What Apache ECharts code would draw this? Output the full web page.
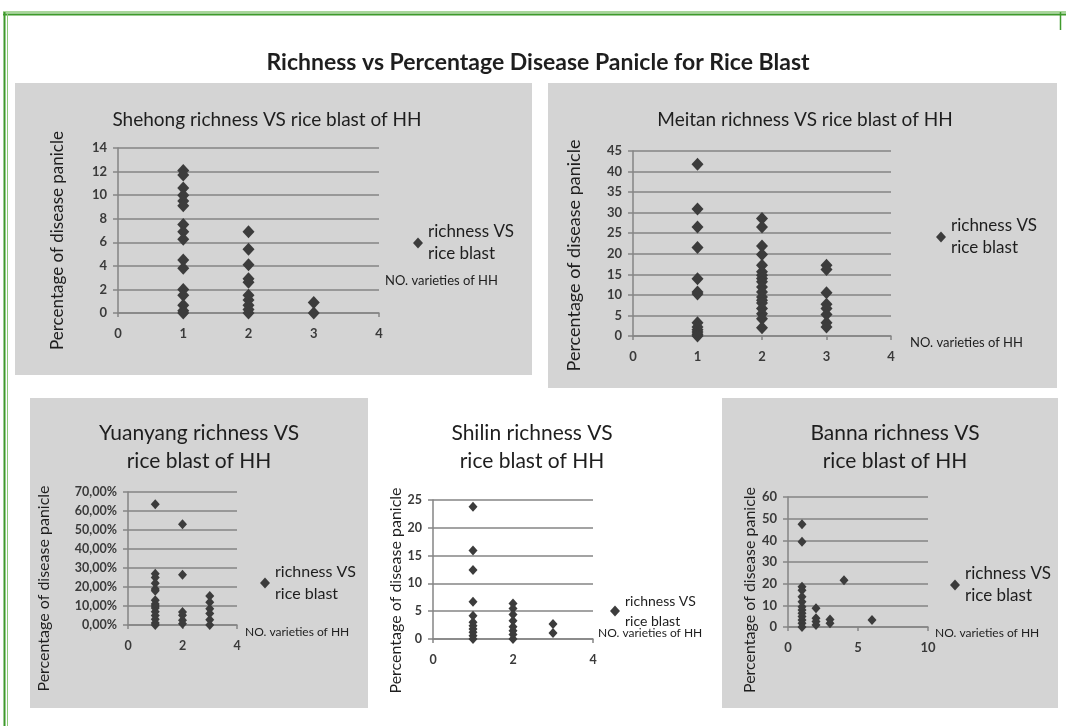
<!DOCTYPE html>
<html>
<head>
<meta charset="utf-8">
<script src="https://cdn.jsdelivr.net/npm/echarts@6/dist/echarts.min.js"></script>
<style>
html,body{margin:0;padding:0;background:#fff;}
#chart{width:1066px;height:726px;}
</style>
</head>
<body>
<div id="chart"></div>
<script>
// ---------- data ----------
const mainTitle = 'Richness vs Percentage Disease Panicle for Rice Blast';
const legendName = 'richness VS rice blast';
const xAxisName = 'NO. varieties of HH';
const yAxisName = 'Percentage of disease panicle';

// Shehong (x = number of HH varieties)
const shehong1 = [12.1, 11.7, 10.6, 10.0, 9.5, 9.1, 7.5, 6.9, 6.25, 4.5, 3.8, 2.0, 1.5, 0.65, 0.2, 0];
const shehong2 = [6.9, 5.4, 4.1, 2.9, 2.6, 1.5, 1.1, 0.65, 0.3, 0];
const shehong3 = [0.9, 0];

// Meitan
const meitan1 = [41.8, 30.9, 26.5, 21.5, 13.9, 10.7, 10.2, 3.2, 2.2, 1.5, 1.0, 0.4, 0];
const meitan2 = [28.6, 26.5, 21.9, 19.8, 17.2, 15.6, 14.8, 14.0, 13.2, 11.9, 10.7, 9.5, 8.7, 8.0, 6.7, 5.4, 4.2, 2.0];
const meitan3 = [17.2, 16.2, 10.5, 7.7, 6.7, 5.2, 3.2, 2.2];

// Yuanyang (fractions, shown as %)
const yuanyang1 = [0.635, 0.27, 0.25, 0.22, 0.19, 0.18, 0.13, 0.11, 0.10, 0.09, 0.07, 0.05, 0.03, 0.01, 0];
const yuanyang2 = [0.53, 0.265, 0.068, 0.051, 0.025, 0.007];
const yuanyang3 = [0.153, 0.12, 0.086, 0.06, 0.028, 0];

// Shilin
const shilin1 = [23.8, 15.9, 12.4, 6.7, 4.2, 3.0, 2.4, 1.8, 1.2, 0.6, 0];
const shilin2 = [6.4, 5.5, 4.4, 3.3, 2.2, 1.5, 0.8, 0];
const shilin3 = [2.7, 1.1];

// Banna
const banna1 = [47.4, 39.3, 18.6, 17.0, 14.0, 11.7, 9.4, 7.8, 6.3, 4.8, 3.2, 1.7, 0];
const banna2 = [8.6, 4.0, 2.5, 0.9];
const banna3 = [3.5, 1.7];
const banna4 = [21.6];
const banna6 = [3.2];

const panels = [
  {title: 'Shehong richness VS rice blast of HH', groups: [[1, shehong1], [2, shehong2], [3, shehong3]], xMax: 4, xInt: 1, yMax: 14, yInt: 2},
  {title: 'Meitan richness VS rice blast of HH', groups: [[1, meitan1], [2, meitan2], [3, meitan3]], xMax: 4, xInt: 1, yMax: 45, yInt: 5},
  {title: 'Yuanyang richness VS\nrice blast of HH', groups: [[1, yuanyang1], [2, yuanyang2], [3, yuanyang3]], xMax: 4, xInt: 2, yMax: 0.7, yInt: 0.1, pct: true},
  {title: 'Shilin richness VS\nrice blast of HH', groups: [[1, shilin1], [2, shilin2], [3, shilin3]], xMax: 4, xInt: 2, yMax: 25, yInt: 5},
  {title: 'Banna richness VS\nrice blast of HH', groups: [[1, banna1], [2, banna2], [3, banna3], [4, banna4], [6, banna6]], xMax: 10, xInt: 5, yMax: 60, yInt: 10}
];

// ---------- layout / style ----------
const FONT = 'Lato, "Noto Sans", sans-serif';
const layout = [
  {bg: [15, 83, 517, 292], grid: [118, 148, 261, 165], title: [262, 101, 19], legend: [408, 216, 17, 22], yGap: 52, yPad: 20, yFont: 17,
   xGap: 6, xPad: [0, 0, 26, 0], xVA: 'bottom', xFont: 13, sym: [12, 13], tick: 13},
  {bg: [548, 83, 509, 305], grid: [633, 151, 258, 185], title: [800, 101, 19], legend: [931, 210, 17, 22], yGap: 50, yPad: 24, yFont: 18,
   xGap: 19, xPad: [0, 0, 0, 0], xVA: 'top', xFont: 13, sym: [12, 13], tick: 13},
  {bg: [30, 398, 338, 310], grid: [128, 492, 109, 133], title: [194, 414, 21], legend: [255, 556, 16, 22], yGap: 76, yPad: 60, yFont: 16,
   xGap: 8, xPad: [1, 0, 0, 0], xVA: 'top', xFont: 12, sym: [9, 10], tick: 12.5},
  {bg: null, grid: [433, 500, 160, 139], title: [527, 414, 21], legend: [605, 586, 14, 20], yGap: 18, yPad: 42, yFont: 16,
   xGap: 5, xPad: [0, 0, 0, 0], xVA: 'bottom', xFont: 12, sym: [9, 10], tick: 12.5},
  {bg: [722, 398, 336, 310], grid: [788, 497, 140, 130], title: [890, 414, 21], legend: [945, 558, 17, 22], yGap: 21, yPad: 56, yFont: 16,
   xGap: 7, xPad: [0, 0, 0, 0], xVA: 'top', xFont: 12, sym: [9, 10], tick: 13}
];
const TEXT = '#1e1e1e';
const GRIDC = '#858585';
const MARK = '#3c3c3c';
const GREEN = '#3f9a2c';

const option = {
  backgroundColor: '#ffffff',
  animation: false,
  textStyle: {fontFamily: FONT},
  title: [], legend: [], grid: [], xAxis: [], yAxis: [], series: [],
  graphic: []
};

// frame
option.graphic.push(
  {type: 'line', shape: {x1: 3, y1: 12, x2: 1066, y2: 12}, style: {stroke: '#8cc97a', lineWidth: 1.5}, z: 1},
  {type: 'line', shape: {x1: 3, y1: 14.5, x2: 1066, y2: 14.5}, style: {stroke: GREEN, lineWidth: 2}, z: 1},
  {type: 'line', shape: {x1: 4.5, y1: 12, x2: 4.5, y2: 726}, style: {stroke: GREEN, lineWidth: 2}, z: 1},
  {type: 'line', shape: {x1: 7.5, y1: 14, x2: 7.5, y2: 726}, style: {stroke: '#8cc97a', lineWidth: 1}, z: 1},
  {type: 'line', shape: {x1: 1060.5, y1: 12, x2: 1060.5, y2: 30}, style: {stroke: GREEN, lineWidth: 1.5}, z: 1}
);

option.title.push({text: mainTitle, left: 533, top: 46, textAlign: 'center',
  textStyle: {fontFamily: FONT, fontSize: 23, fontWeight: 'bold', color: TEXT}});

panels.forEach((p, i) => {
  const L = layout[i];
  if (L.bg) {
    option.graphic.push({type: 'rect', shape: {x: L.bg[0], y: L.bg[1], width: L.bg[2], height: L.bg[3]},
      style: {fill: '#d4d4d4'}, z: 0, silent: true});
  }
  option.title.push({text: p.title, left: L.title[0], top: L.title[1], textAlign: 'center',
    textStyle: {fontFamily: FONT, fontSize: L.title[2], fontWeight: 'normal', color: TEXT, lineHeight: 28}});
  option.grid.push({left: L.grid[0], top: L.grid[1], width: L.grid[2], height: L.grid[3], containLabel: false});
  option.xAxis.push({
    type: 'value', gridIndex: i, min: 0, max: p.xMax, interval: p.xInt,
    name: xAxisName, nameLocation: 'end', nameGap: L.xGap,
    nameTextStyle: {fontFamily: FONT, fontSize: L.xFont, color: TEXT, align: 'left', verticalAlign: L.xVA, padding: L.xPad},
    axisLine: {show: true, onZero: false, lineStyle: {color: GRIDC, width: 1.5}},
    axisTick: {show: true, length: 4, lineStyle: {color: GRIDC, width: 1.5}},
    axisLabel: {fontFamily: FONT, fontSize: L.tick, fontWeight: 'bold', color: '#3a3a3a', margin: 14},
    splitLine: {show: false}
  });
  option.yAxis.push({
    type: 'value', gridIndex: i, min: 0, max: p.yMax, interval: p.yInt,
    name: yAxisName, nameLocation: 'middle', nameGap: L.yGap, nameRotate: 90,
    nameTextStyle: {fontFamily: FONT, fontSize: L.yFont, color: TEXT, padding: [0, L.yPad, 0, 0]},
    axisLine: {show: true, lineStyle: {color: GRIDC, width: 1.5}},
    axisTick: {show: true, length: 5, lineStyle: {color: GRIDC, width: 1.5}},
    axisLabel: {fontFamily: FONT, fontSize: L.tick, fontWeight: 'bold', color: '#3a3a3a', margin: 11,
      formatter: p.pct ? (v => (v * 100).toFixed(2).replace('.', ',') + '%') : (v => String(v))},
    splitLine: {show: true, lineStyle: {color: GRIDC, width: 1.5}}
  });
  const data = [];
  p.groups.forEach(g => g[1].forEach(v => data.push([g[0], v])));
  option.series.push({
    type: 'scatter', name: legendName, xAxisIndex: i, yAxisIndex: i,
    symbol: 'diamond', symbolSize: L.sym, itemStyle: {color: MARK, opacity: 1},
    data: data, z: 3
  });
  option.legend.push({
    data: [{name: legendName, icon: 'diamond'}], left: L.legend[0], top: L.legend[1],
    orient: 'vertical', itemWidth: 10, itemHeight: 11, itemGap: 5, selectedMode: false,
    formatter: () => 'richness VS\nrice blast',
    textStyle: {fontFamily: FONT, fontSize: L.legend[2], lineHeight: L.legend[3], color: TEXT},
    itemStyle: {color: MARK}
  });
});

const chart = echarts.init(document.getElementById('chart'), null, {renderer: 'canvas'});
chart.setOption(option);
</script>
</body>
</html>
